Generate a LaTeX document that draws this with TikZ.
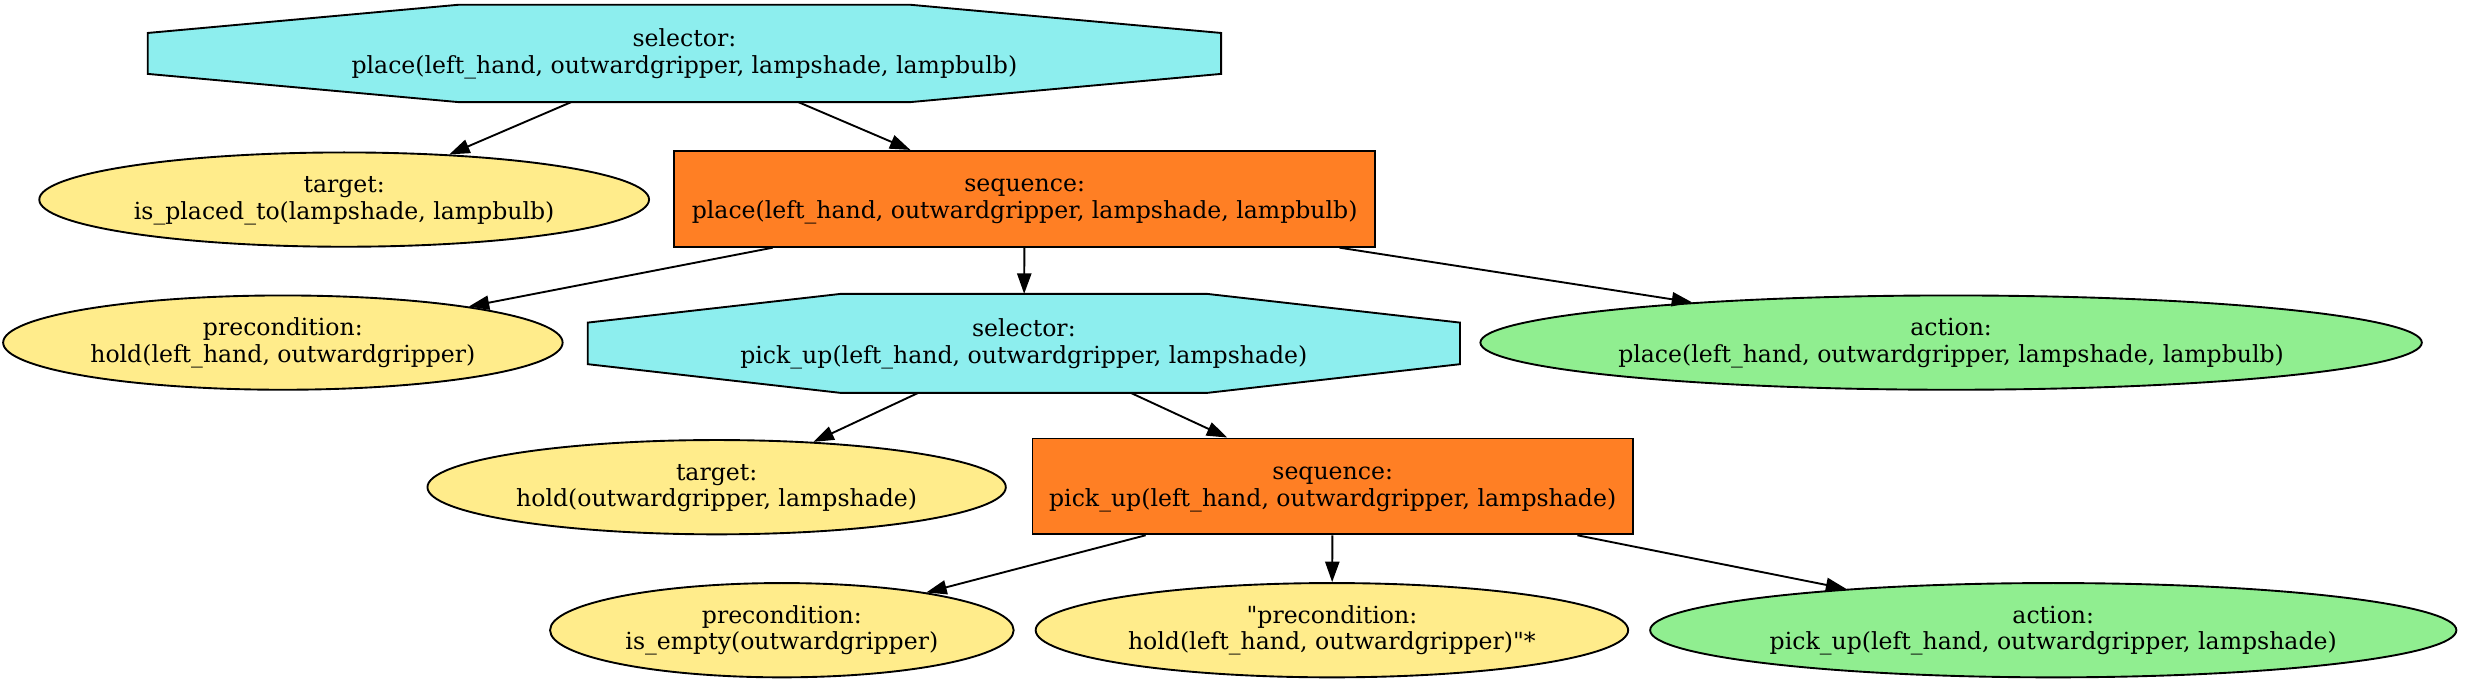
\documentclass[tikz,border=0pt]{standalone}
\usepackage{fontspec}
\setmainfont{DejaVu Serif}[Ligatures=TeXOff]
\usetikzlibrary{shapes.geometric,arrows.meta,backgrounds,calc}
\definecolor{selcyan}{HTML}{8DEEEE}
\definecolor{seqorange}{HTML}{FF7F24}
\definecolor{condyellow}{HTML}{FFEC8B}
\definecolor{actgreen}{HTML}{90EE90}
% two line label with fixed first height and last depth
\newcommand{\twolines}[2]{\rule{0pt}{13pt}#1\\#2\rule[-5pt]{0pt}{5pt}}
\tikzset{
	lbl/.style={align=center,font=\fontsize{15}{17}\selectfont,inner sep=0pt},
	cond/.style={lbl,ellipse,draw,fill=condyellow},
	act/.style={lbl,ellipse,draw,fill=actgreen},
	seqbox/.style={lbl,rectangle,draw,fill=seqorange},
	selbox/.style={lbl,rectangle,outer sep=0pt},
	edge/.style={-{Triangle[length=13pt,width=9pt]}}
}
\begin{document}
\begin{tikzpicture}[x=1pt,y=-1pt,line width=1.2pt]
	\useasboundingbox (0,0) rectangle (1568.5,436);
	% first level
	\node[selbox,minimum width=683pt,minimum height=62pt] (sel1) at (435.5,34) {\twolines{selector:}{place(left\_hand, outwardgripper, lampshade, lampbulb)}};
	\node[cond,minimum width=388pt,minimum height=60pt] (tgt1) at (219,127) {\twolines{target:}{is\_placed\_to(lampshade, lampbulb)}};
	\node[seqbox,minimum width=446pt,minimum height=61pt] (seq1) at (652,126.5) {\twolines{sequence:}{place(left\_hand, outwardgripper, lampshade, lampbulb)}};
	% second level
	\node[cond,minimum width=356pt,minimum height=60pt] (pre1) at (180,218) {\twolines{precondition:}{hold(left\_hand, outwardgripper)}};
	\node[selbox,minimum width=555pt,minimum height=63pt] (sel2) at (651.5,218.5) {\twolines{selector:}{pick\_up(left\_hand, outwardgripper, lampshade)}};
	\node[act,minimum width=593pt,minimum height=60pt] (act1) at (1241.5,218) {\twolines{action:}{place(left\_hand, outwardgripper, lampshade, lampbulb)}};
	\node[cond,minimum width=368pt,minimum height=60pt] (tgt2) at (456,310) {\twolines{target:}{hold(outwardgripper, lampshade)}};
	\node[seqbox,minimum width=382pt,minimum height=61pt] (seq2) at (848,309.5) {\twolines{sequence:}{pick\_up(left\_hand, outwardgripper, lampshade)}};
	% leaves
	\node[cond,minimum width=295pt,minimum height=60pt] (pre2) at (497.5,401) {\twolines{precondition:}{is\_empty(outwardgripper)}};
	\node[cond,minimum width=377pt,minimum height=60pt] (pre3) at (847.5,401) {\twolines{"precondition:}{hold(left\_hand, outwardgripper)"*}};
	\node[act,minimum width=513pt,minimum height=60pt] (act2) at (1306.5,401) {\twolines{action:}{pick\_up(left\_hand, outwardgripper, lampshade)}};
	% octagons behind the selector texts
	\begin{scope}[on background layer]
		\foreach \n in {sel1,sel2}
			\draw[fill=selcyan,line width=1.2pt] ($(\n.north west)!0.29!(\n.north east)$) -- ($(\n.north west)!0.71!(\n.north east)$)
				-- ($(\n.north east)!0.29!(\n.south east)$) -- ($(\n.north east)!0.71!(\n.south east)$)
				-- ($(\n.south west)!0.71!(\n.south east)$) -- ($(\n.south west)!0.29!(\n.south east)$)
				-- ($(\n.north west)!0.71!(\n.south west)$) -- ($(\n.north west)!0.29!(\n.south west)$) -- cycle;
	\end{scope}
	% edges
	\draw[edge] (sel1) -- (tgt1);
	\draw[edge] (sel1) -- (seq1);
	\draw[edge] (seq1) -- (pre1);
	\draw[edge] (seq1) -- (sel2);
	\draw[edge] (seq1) -- (act1);
	\draw[edge] (sel2) -- (tgt2);
	\draw[edge] (sel2) -- (seq2);
	\draw[edge] (seq2) -- (pre2);
	\draw[edge] (seq2) -- (pre3);
	\draw[edge] (seq2) -- (act2);
\end{tikzpicture}
\end{document}
